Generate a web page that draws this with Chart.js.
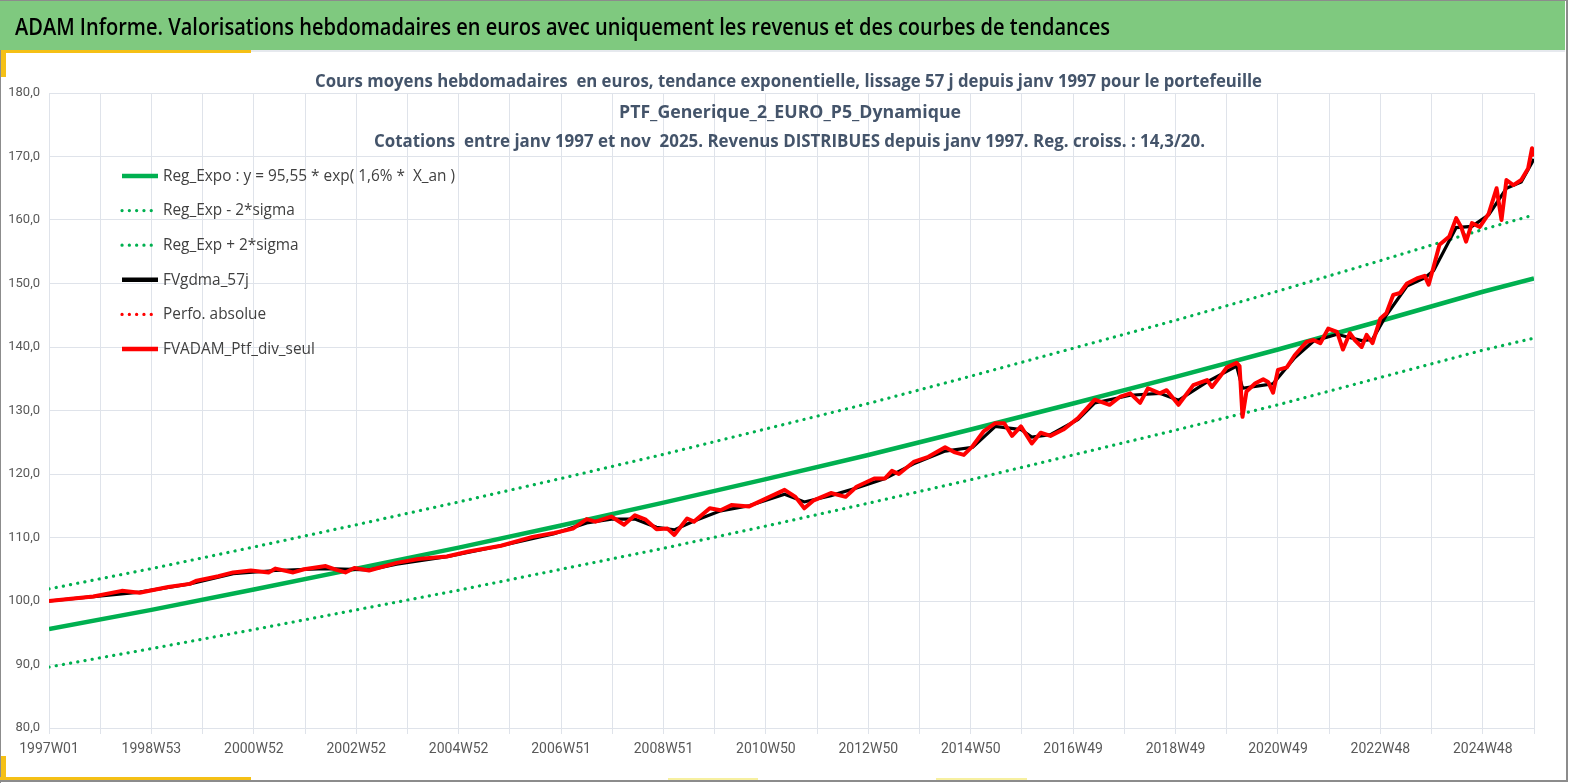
<!DOCTYPE html>
<html lang="fr">
<head>
<meta charset="utf-8">
<title>ADAM Informe</title>
<script src="https://cdn.jsdelivr.net/npm/chart.js@4.4.1/dist/chart.umd.min.js"></script>
<style>
  html, body { margin: 0; padding: 0; background: #fff; }
  body { width: 1569px; height: 783px; position: relative; overflow: hidden; }
  .deco { position: absolute; }
  #chart { position: absolute; left: 0; top: 0; }
</style>
</head>
<body>
<div class="deco" style="left:0;top:0;width:1567px;height:1px;background:#8c8c8c"></div>
<div class="deco" style="left:0;top:1px;width:1565px;height:49px;background:#7fc97f"></div>
<div class="deco" style="left:0;top:50px;width:1565px;height:2px;background:#e6e9ee"></div>
<div class="deco" style="left:0;top:50px;width:251px;height:3px;background:#f5c016"></div>
<div class="deco" style="left:0;top:50px;width:1px;height:733px;background:#8c8c8c"></div>
<div class="deco" style="left:1px;top:52px;width:5px;height:25px;background:#f5c016"></div>
<div class="deco" style="left:1px;top:756px;width:5px;height:24px;background:#f5c016"></div>
<div class="deco" style="left:0;top:777px;width:251px;height:3px;background:#f5c016"></div>
<div class="deco" style="left:668px;top:778px;width:90px;height:2px;background:#f7f0a0"></div>
<div class="deco" style="left:936px;top:778px;width:91px;height:2px;background:#f7f0a0"></div>
<div class="deco" style="left:0;top:780px;width:1567px;height:2px;background:#8c8c8c"></div>
<div class="deco" style="left:1566px;top:0;width:2px;height:782px;background:#8c8c8c"></div>
<canvas id="chart" width="1569" height="783"></canvas>
<script>
'use strict';

// x axis labels, one every 104 weeks (index of the week since 1997W01)
var tickWeeks = [0, 104, 208, 312, 416, 520, 624, 728, 832, 936, 1040, 1144, 1248, 1352, 1456];
var tickLabels = ['1997W01', '1998W53', '2000W52', '2002W52', '2004W52', '2006W51', '2008W51',
  '2010W50', '2012W50', '2014W50', '2016W49', '2018W49', '2020W49', '2022W48', '2024W48'];

// trend curves, read every two years + last week
var trendWeeks = [0, 104, 208, 312, 416, 520, 624, 728, 832, 936, 1040, 1144, 1248, 1352, 1456, 1508];
var regExpo = [95.6, 98.6, 101.8, 105.1, 108.4, 111.9, 115.5, 119.2, 123.0, 127.0, 131.1, 135.3, 139.6, 144.1, 148.7, 150.8];
var regMinus = [89.6, 92.5, 95.5, 98.6, 101.7, 105.0, 108.3, 111.8, 115.4, 119.1, 123.0, 126.9, 130.9, 135.2, 139.5, 141.4];
var regPlus = [101.9, 105.1, 108.5, 112.0, 115.6, 119.3, 123.1, 127.1, 131.1, 135.4, 139.8, 144.2, 148.8, 153.6, 158.5, 160.8];

// moving average (57 j)
var gdmaWeeks = [0, 45, 92, 143, 187, 230, 281, 325, 353, 404, 459, 513, 546, 571, 595, 617, 635, 655, 682, 711,
  747, 767, 794, 820, 849, 878, 910, 938, 961, 987, 998, 1017, 1045, 1062, 1098, 1128, 1147, 1176, 1206, 1212,
  1225, 1243, 1265, 1284, 1308, 1333, 1344, 1358, 1379, 1397, 1406, 1429, 1445, 1462, 1480, 1495, 1508];
var gdmaValues = [100.0, 100.7, 101.4, 102.7, 104.3, 104.8, 105.1, 104.9, 105.8, 107.0, 108.7, 110.6, 112.3, 112.9, 112.9, 111.6, 111.2, 112.6, 114.2, 115.0,
  116.8, 115.6, 116.6, 117.8, 119.3, 121.6, 123.6, 124.2, 127.5, 127.0, 125.8, 126.2, 128.6, 131.2, 132.4, 132.7, 131.6, 134.5, 137.0, 133.5,
  133.8, 134.2, 138.3, 140.9, 142.0, 141.0, 141.2, 145.0, 149.6, 150.9, 152.0, 158.8, 159.0, 160.8, 165.0, 166.0, 169.6];

// portfolio, income only
var ptfWeeks = [0, 20, 45, 74, 92, 121, 143, 150, 172, 187, 205, 223, 230, 248, 259, 281, 292, 301, 310, 325,
  353, 375, 404, 426, 459, 491, 513, 532, 546, 555, 571, 584, 595, 606, 617, 628, 635, 648, 655, 671,
  682, 693, 711, 729, 747, 758, 767, 776, 794, 809, 820, 838, 849, 856, 863, 878, 893, 910, 920, 929,
  938, 949, 961, 970, 978, 987, 998, 1007, 1017, 1030, 1045, 1062, 1077, 1088, 1098, 1108, 1116, 1128, 1135, 1147,
  1162, 1176, 1181, 1189, 1196, 1206, 1209, 1212, 1216, 1225, 1233, 1238, 1243, 1248, 1257, 1265, 1277, 1284, 1291, 1299,
  1308, 1314, 1321, 1326, 1333, 1338, 1344, 1352, 1358, 1365, 1372, 1379, 1389, 1397, 1401, 1406, 1412, 1422, 1429, 1434,
  1439, 1445, 1453, 1462, 1470, 1475, 1480, 1487, 1495, 1502, 1506, 1508];
var ptfValues = [100.0, 100.3, 100.7, 101.6, 101.3, 102.2, 102.7, 103.2, 103.9, 104.5, 104.8, 104.5, 105.1, 104.5, 105.0, 105.5, 104.9, 104.5, 105.2, 104.8,
  106.0, 106.6, 107.0, 107.8, 108.7, 110.1, 110.7, 111.4, 112.9, 112.5, 113.3, 112.0, 113.5, 112.8, 111.3, 111.4, 110.4, 113.0, 112.5, 114.6,
  114.3, 115.1, 114.9, 116.2, 117.5, 116.4, 114.6, 115.8, 117.0, 116.4, 118.0, 119.3, 119.3, 120.5, 120.0, 121.9, 122.7, 124.2, 123.4, 123.0,
  124.4, 126.7, 128.0, 128.0, 126.0, 127.5, 124.8, 126.5, 126.0, 127.0, 128.8, 131.7, 130.9, 132.2, 132.7, 131.2, 133.5, 132.7, 133.2, 130.9,
  134.0, 134.8, 133.7, 135.3, 136.8, 137.5, 137.0, 129.0, 133.0, 134.3, 134.9, 134.5, 132.8, 136.4, 136.8, 138.7, 140.8, 141.1, 140.6, 142.9,
  142.4, 139.6, 142.2, 141.1, 140.0, 141.9, 140.6, 144.5, 145.3, 148.2, 148.5, 150.0, 150.8, 151.2, 149.8, 152.6, 156.1, 157.4, 160.3, 158.9,
  156.6, 159.5, 158.9, 161.0, 165.0, 160.0, 166.3, 165.5, 166.3, 168.1, 171.3, 170.0];

var titleLines = [
  'Cours moyens hebdomadaires  en euros, tendance exponentielle, lissage 57 j depuis janv 1997 pour le portefeuille',
  'PTF_Generique_2_EURO_P5_Dynamique',
  'Cotations  entre janv 1997 et nov  2025. Revenus DISTRIBUES depuis janv 1997. Reg. croiss. : 14,3/20.'
];
var headerText = 'ADAM Informe. Valorisations hebdomadaires en euros avec uniquement les revenus et des courbes de tendances';

var FONT = '"Open Sans", sans-serif';
var TICK_FONT = 'Roboto, "Open Sans", sans-serif';
var GREEN = '#00b050';
var DOTS = [0.1, 7.2];

function toPoints(weeks, values) {
  var pts = [];
  for (var i = 0; i < weeks.length; i++) {
    pts.push({ x: weeks[i], y: values[i] });
  }
  return pts;
}

function fitText(ctx, text, x, y, width) {
  var w = ctx.measureText(text).width;
  ctx.save();
  ctx.translate(x, y);
  ctx.scale(width / w, 1);
  ctx.fillText(text, 0, 0);
  ctx.restore();
}

var decorPlugin = {
  id: 'decor',
  afterDraw: function (chart) {
    var ctx = chart.ctx;
    ctx.save();
    ctx.textBaseline = 'middle';
    ctx.textAlign = 'left';

    // header bar text
    ctx.fillStyle = '#000';
    ctx.font = '600 24px ' + FONT;
    fitText(ctx, headerText, 15, 28, 1095);

    // chart title
    ctx.fillStyle = '#44546a';
    ctx.font = 'bold 18px ' + FONT;
    fitText(ctx, titleLines[0], 315, 82, 947);
    fitText(ctx, titleLines[1], 619, 113, 342);
    fitText(ctx, titleLines[2], 374, 142, 831);

    // legend, top left inside the plot
    ctx.font = '17px ' + FONT;
    var first = ctx.measureText(chart.data.datasets[0].label).width;
    var sx = 292 / first;
    chart.data.datasets.forEach(function (ds, i) {
      var y = 176 + i * 34.6;
      ctx.save();
      ctx.strokeStyle = ds.borderColor;
      ctx.lineCap = 'round';
      if (ds.borderDash && ds.borderDash.length) {
        ctx.lineWidth = 3.2;
        ctx.setLineDash(DOTS);
      } else {
        ctx.lineWidth = 4.5;
        ctx.lineCap = 'butt';
      }
      ctx.beginPath();
      ctx.moveTo(122, y);
      ctx.lineTo(158, y);
      ctx.stroke();
      ctx.restore();
      ctx.fillStyle = '#404040';
      ctx.save();
      ctx.translate(163, y);
      ctx.scale(sx, 1);
      ctx.fillText(ds.label, 0, 0);
      ctx.restore();
    });
    ctx.restore();
  }
};

var ctx = document.getElementById('chart').getContext('2d');
var chart = new Chart(ctx, {
  type: 'line',
  data: {
    datasets: [{
      label: 'Reg_Expo : y = 95,55 * exp( 1,6% *  X_an )',
      data: toPoints(trendWeeks, regExpo),
      borderColor: GREEN,
      borderWidth: 4.5,
      order: 5
    }, {
      label: 'Reg_Exp - 2*sigma',
      data: toPoints(trendWeeks, regMinus),
      borderColor: GREEN,
      borderWidth: 3.2,
      borderDash: DOTS,
      borderCapStyle: 'round',
      order: 4
    }, {
      label: 'Reg_Exp + 2*sigma',
      data: toPoints(trendWeeks, regPlus),
      borderColor: GREEN,
      borderWidth: 3.2,
      borderDash: DOTS,
      borderCapStyle: 'round',
      order: 3
    }, {
      label: 'FVgdma_57j',
      data: toPoints(gdmaWeeks, gdmaValues),
      borderColor: '#000000',
      borderWidth: 3.2,
      order: 2
    }, {
      label: 'Perfo. absolue',
      data: [],
      borderColor: '#ff0000',
      borderWidth: 3.2,
      borderDash: DOTS,
      borderCapStyle: 'round',
      order: 1
    }, {
      label: 'FVADAM_Ptf_div_seul',
      data: toPoints(ptfWeeks, ptfValues),
      borderColor: '#ff0000',
      borderWidth: 4,
      borderJoinStyle: 'round',
      order: 0
    }]
  },
  options: {
    responsive: false,
    animation: false,
    layout: { padding: { top: 93, right: 35, left: 0, bottom: 0 } },
    elements: { point: { radius: 0 }, line: { tension: 0, fill: false } },
    plugins: { legend: { display: false }, title: { display: false }, tooltip: { enabled: false } },
    scales: {
      x: {
        type: 'linear',
        min: 0,
        max: 1508,
        afterFit: function (scale) { scale.height = 55; },
        grid: { color: '#dfe3ea', lineWidth: 1, drawTicks: true, tickLength: 6, tickColor: '#dfe3ea' },
        border: { color: '#dfe3ea' },
        ticks: {
          stepSize: 52,
          autoSkip: false,
          maxRotation: 0,
          padding: 7,
          color: '#595959',
          font: { family: TICK_FONT, size: 14 },
          callback: function (value) {
            var i = tickWeeks.indexOf(Math.round(value));
            return i >= 0 ? tickLabels[i] : '';
          }
        }
      },
      y: {
        min: 80,
        max: 180,
        afterFit: function (scale) { scale.width = 49; },
        grid: { color: '#dfe3ea', lineWidth: 1, drawTicks: false },
        border: { color: '#dfe3ea' },
        ticks: {
          stepSize: 10,
          padding: 9,
          color: '#595959',
          font: { family: TICK_FONT, size: 13 },
          callback: function (value) { return value.toFixed(1).replace('.', ','); }
        }
      }
    }
  },
  plugins: [decorPlugin]
});
</script>
</body>
</html>
